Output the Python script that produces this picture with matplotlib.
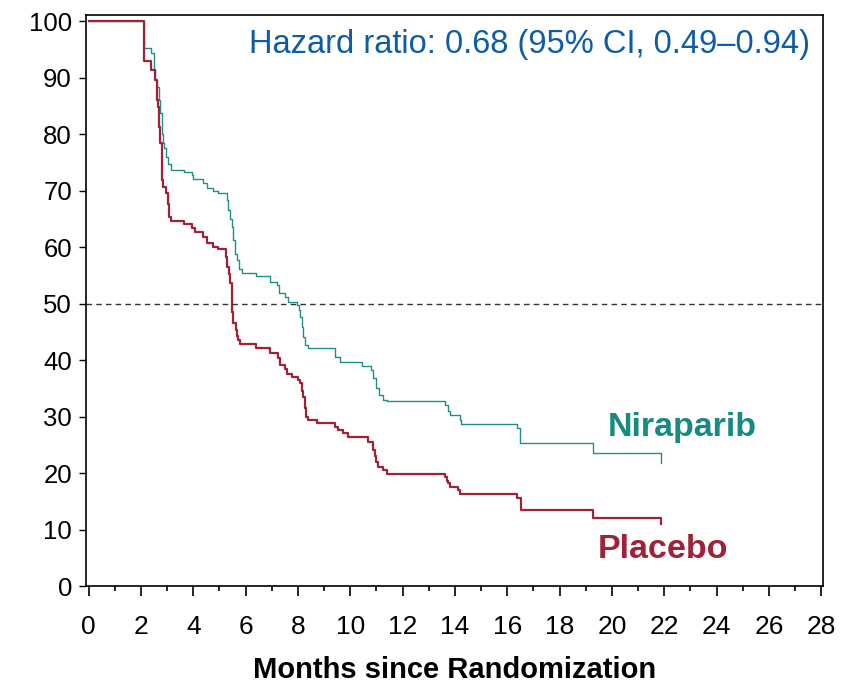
import matplotlib
matplotlib.use("Agg")
from matplotlib import pyplot as plt
from matplotlib.ticker import MultipleLocator

plt.rcParams['font.family'] = ['Liberation Sans', 'DejaVu Sans']

# Kaplan-Meier estimates: time of each step (months) and % event-free after it
placebo_t = [0, 2.11, 2.39, 2.55, 2.61, 2.67, 2.71, 2.74, 2.80, 2.86, 2.97,
             3.02, 3.09, 3.14, 3.63, 3.95, 4.07, 4.39, 4.52, 4.77, 4.96,
             5.24, 5.30, 5.36, 5.41, 5.47, 5.50, 5.53, 5.63, 5.68, 5.73,
             5.79, 6.40, 6.94, 7.25, 7.32, 7.51, 7.58, 7.76, 8.02, 8.08,
             8.15, 8.21, 8.27, 8.31, 8.37, 8.72, 9.42, 9.54, 9.73, 9.92,
             10.69, 10.88, 10.93, 10.98, 11.05, 11.27, 11.39, 13.61, 13.68, 13.74,
             13.81, 14.12, 14.21, 16.38, 16.54, 19.27, 21.88]
placebo_s = [100, 92.9, 91.3, 89.6, 86.0, 84.8, 81.3, 78.4, 71.9, 70.7, 69.5,
             67.7, 65.4, 64.7, 64.1, 63.4, 62.6, 61.8, 60.7, 60.1, 59.6,
             58.2, 56.5, 55.3, 53.6, 51.2, 48.5, 46.5, 45.3, 44.2, 43.5,
             42.8, 42.1, 41.3, 40.3, 39.1, 38.4, 37.5, 37.0, 36.5, 35.9,
             34.5, 33.5, 31.5, 30.0, 29.4, 28.9, 28.2, 27.6, 27.1, 26.4,
             25.5, 24.1, 23.0, 22.0, 21.1, 20.5, 19.9, 19.3, 18.6, 18.2,
             17.5, 17.0, 16.3, 15.6, 13.4, 12.0, 10.9]

nira_t = [0, 2.11, 2.39, 2.51, 2.55, 2.63, 2.71, 2.74, 2.80, 2.84, 2.90, 2.97,
          3.05, 3.14, 3.65, 3.95, 4.01, 4.39, 4.52, 4.77, 4.96, 5.28, 5.34,
          5.40, 5.47, 5.53, 5.60, 5.66, 5.76, 5.87, 6.40, 6.94, 7.19, 7.28,
          7.51, 7.64, 7.95, 8.05, 8.10, 8.15, 8.21, 8.27, 8.37, 9.42, 9.61,
          10.44, 10.78, 10.86, 10.99, 11.11, 11.24, 11.39, 13.61, 13.74,
          13.81, 14.19, 14.25, 16.38, 16.50, 19.27, 21.88]
nira_s = [100, 95.3, 94.3, 91.6, 89.6, 88.4, 86.0, 83.7, 80.1, 78.4, 77.5, 76.0,
          74.8, 73.7, 73.3, 72.7, 72.0, 71.3, 70.4, 70.0, 69.6, 68.3, 66.5,
          65.0, 63.5, 61.2, 58.8, 57.7, 56.2, 55.5, 54.9, 53.9, 53.3, 51.8,
          51.2, 50.3, 49.7, 48.8, 47.7, 45.9, 44.1, 42.7, 42.1, 40.5, 39.7,
          38.9, 38.2, 36.8, 35.0, 33.8, 33.0, 32.8, 32.0, 31.0,
          30.2, 29.4, 28.7, 27.9, 25.4, 23.6, 21.8]

hr_text = 'Hazard ratio: 0.68 (95% CI, 0.49\u20130.94)'
x_ticks = list(range(0, 29, 2))
y_ticks = list(range(0, 101, 10))

teal = '#1f8f89'
crimson = '#9e2238'

fig = plt.figure(figsize=(8.42, 6.83), dpi=100)
ax = fig.add_axes([0.102, 0.142, 0.875, 0.836])

ax.step(nira_t, nira_s, where='post', color=teal, lw=1.0)
ax.step(placebo_t, placebo_s, where='post', color=crimson, lw=1.6)
ax.axhline(50, color='#333333', lw=1.0, linestyle=(0, (4, 3)))

ax.set_xlim(-0.1, 28.05)
ax.set_ylim(0, 101.1)
ax.set_xticks(x_ticks)
ax.xaxis.set_minor_locator(MultipleLocator(1))
ax.set_yticks(y_ticks)

for lab in ax.get_xticklabels():
    lab.set_fontsize(19)
for lab in ax.get_yticklabels():
    lab.set_fontsize(18.5)

ax.tick_params(axis='x', which='major', direction='out', length=7, width=1.2, pad=14)
ax.tick_params(axis='x', which='minor', direction='out', length=3.5, width=1.2)
ax.tick_params(axis='y', direction='out', length=5, width=1.0, pad=5)
for sp in ax.spines.values():
    sp.set_linewidth(1.2)

ax.set_xlabel('Months since Randomization', fontsize=21,
              fontweight='bold', labelpad=12)

ax.text(27.55, 95.9, hr_text, fontsize=23.5, color='#0d5ca6',
        ha='right', va='center')
ax.text(19.84, 28.1, 'Niraparib', fontsize=24.5, fontweight='bold', color='#178a82',
        ha='left', va='center')
ax.text(19.45, 6.4, 'Placebo', fontsize=24.5, fontweight='bold', color=crimson,
        ha='left', va='center')

fig.savefig('out.png', dpi=100)
